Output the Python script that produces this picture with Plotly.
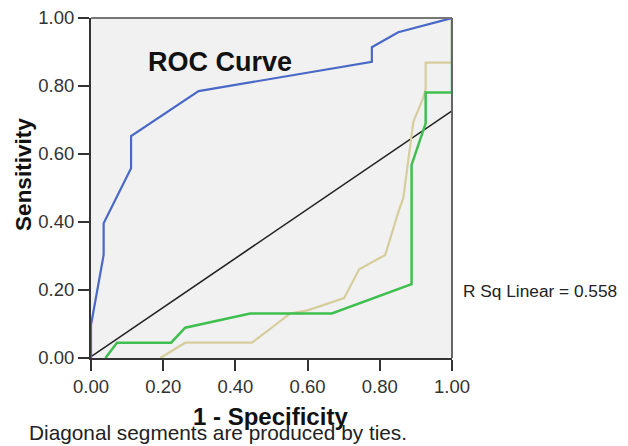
import plotly.graph_objects as go

# ROC curves (1 - Specificity, Sensitivity)
blue_x = [0.0, 0.0, 0.035, 0.035, 0.111, 0.111, 0.298, 0.778, 0.778, 0.851, 1.0]
blue_y = [0.0, 0.097, 0.303, 0.396, 0.558, 0.653, 0.785, 0.871, 0.914, 0.958, 1.0]

green_x = [0.04, 0.072, 0.222, 0.261, 0.441, 0.667, 0.888, 0.888, 0.927, 0.927, 1.0, 1.0]
green_y = [0.0, 0.045, 0.045, 0.089, 0.131, 0.131, 0.217, 0.568, 0.690, 0.781, 0.781, 1.0]

tan_x = [0.192, 0.261, 0.446, 0.552, 0.600, 0.701, 0.743, 0.815, 0.853, 0.865, 0.893, 0.920, 0.927, 0.927, 1.0, 1.0]
tan_y = [0.0, 0.045, 0.045, 0.131, 0.140, 0.176, 0.261, 0.303, 0.435, 0.470, 0.695, 0.764, 0.790, 0.869, 0.869, 1.0]

fit_x = [0.0, 1.0]
fit_y = [0.004, 0.727]

tick_vals = [0.0, 0.2, 0.4, 0.6, 0.8, 1.0]
tick_text = ["0.00", "0.20", "0.40", "0.60", "0.80", "1.00"]

fig = go.Figure()
fig.add_trace(go.Scatter(x=fit_x, y=fit_y, mode="lines",
                         line=dict(color="#222222", width=1.6), hoverinfo="skip"))
fig.add_trace(go.Scatter(x=tan_x, y=tan_y, mode="lines",
                         line=dict(color="#D6CD9C", width=2.2)))
fig.add_trace(go.Scatter(x=green_x, y=green_y, mode="lines",
                         line=dict(color="#3FBF4F", width=2.5)))
fig.add_trace(go.Scatter(x=blue_x, y=blue_y, mode="lines",
                         line=dict(color="#4A68C6", width=2.2)))

axis_common = dict(range=[0, 1], tickvals=tick_vals, ticktext=tick_text,
                   ticks="outside", ticklen=11, tickwidth=2, tickcolor="#333333",
                   showline=True, linecolor="#333333", linewidth=2,
                   showgrid=False, zeroline=False, automargin=False,
                   ticklabeloverflow="allow",
                   tickfont=dict(family="Arial, Liberation Sans", size=18.5, color="#333333"))

# The page body has an 8px default margin, so the figure is sized to fit the window.
fig.update_layout(
    width=620, height=438,
    margin=dict(l=83, r=176, t=10, b=88),
    paper_bgcolor="white", plot_bgcolor="#F1F1F1",
    showlegend=False,
    xaxis=dict(**axis_common),
    yaxis=dict(**axis_common),
    shapes=[
        dict(type="line", xref="paper", yref="paper", x0=0, x1=1, y0=1, y1=1,
             line=dict(color="#777777", width=2)),
        dict(type="line", xref="paper", yref="paper", x0=1, x1=1, y0=0, y1=1,
             line=dict(color="#666666", width=2)),
    ],
    annotations=[
        dict(text="<b>ROC Curve</b>", xref="paper", yref="paper", x=0.356, y=0.871,
             xanchor="center", yanchor="middle", showarrow=False,
             font=dict(family="Arial, Liberation Sans", size=27, color="#111111")),
        dict(text="<b>Sensitivity</b>", xref="paper", yref="paper", x=-0.187, y=0.54,
             xanchor="center", yanchor="middle", textangle=-90, showarrow=False,
             font=dict(family="Arial, Liberation Sans", size=22.5, color="#111111")),
        dict(text="<b>1 - Specificity</b>", xref="paper", yref="paper", x=0.4985, y=-0.172,
             xanchor="center", yanchor="middle", showarrow=False,
             font=dict(family="Arial, Liberation Sans", size=24, color="#111111")),
        dict(text="Diagonal segments are produced by ties.", xref="paper", yref="paper",
             x=-0.176, y=-0.219, xanchor="left", yanchor="middle", showarrow=False,
             font=dict(family="Arial, Liberation Sans", size=20.8, color="#222222")),
        dict(text="R Sq Linear = 0.558", xref="paper", yref="paper", x=1.026, y=0.198,
             xanchor="left", yanchor="middle", showarrow=False,
             font=dict(family="Arial, Liberation Sans", size=17.3, color="#222222")),
    ],
)

fig.write_html("out.html")
